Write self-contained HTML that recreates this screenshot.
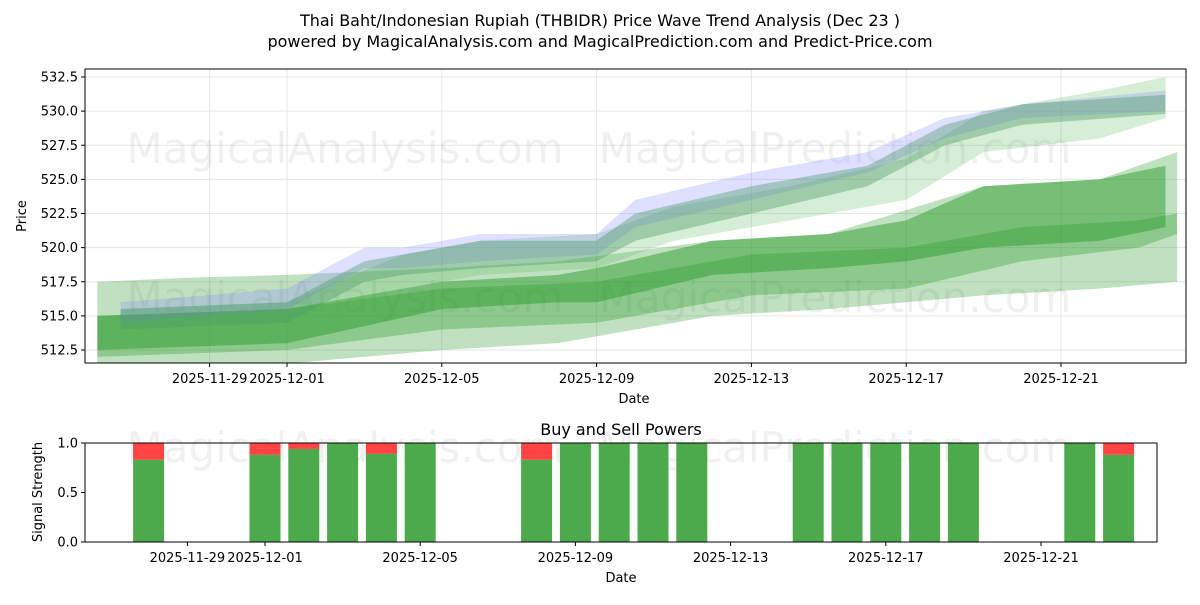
<!DOCTYPE html>
<html><head><meta charset="utf-8">
<style>
body{margin:0;background:#fff;font-family:"Liberation Sans","DejaVu Sans",sans-serif;}
svg text{font-family:"DejaVu Sans","Liberation Sans",sans-serif;}
</style></head>
<body>
<svg id="chart" width="1200" height="600" xmlns="http://www.w3.org/2000/svg">
<rect width="1200" height="600" fill="#fff"/>
<text x="600" y="26" text-anchor="middle" font-size="16">Thai Baht/Indonesian Rupiah (THBIDR) Price Wave Trend Analysis (Dec 23 )</text>
<text x="600" y="47" text-anchor="middle" font-size="16">powered by MagicalAnalysis.com and MagicalPrediction.com and Predict-Price.com</text>
<g id="topPanel"></g>
<g id="botPanel"></g>
</svg>
<script>
// ---- data ----
const xTickLabels = ["2025-11-29","2025-12-01","2025-12-05","2025-12-09","2025-12-13","2025-12-17","2025-12-21"];
const xTickDays = [-2,0,4,8,12,16,20];
const yTicks = [512.5,515.0,517.5,520.0,522.5,525.0,527.5,530.0,532.5];
const bandAx = [-4.3,0,2,3,5,8,9,12,15,17,19,22.7];
const bandALo = [514.5,515.5,518.5,518.5,519,519.5,521.5,523.5,525.5,528,529.5,530];
const bandAHi = [516,517,520,520,521,521,523.5,525.5,527,529.5,530.5,531.5];
const bandBx = [-4.3,0,2,3,5,8,9,12,15,17,19,22.7];
const bandBLo = [514,514.5,517.5,518,518.5,519,520.5,522.5,524.5,527.5,529,529.8];
const bandBHi = [515.5,516,519,519.5,520.5,520.5,522.5,524.5,526,529,530.5,531.2];
const bandCx = [-4.9,0,4,7,8,11,14,16,18,21,22.7];
const bandCLo = [512.5,513,515.5,516,516,518,518.5,519,520,520.5,521.5];
const bandCHi = [515,515.5,517.5,518,518.5,520.5,521,522,524.5,525,526];
const bandDx = [-4.9,-2.5,0,4,7,11,14,18,21,23];
const bandDLo = [510,511,511.5,512.5,513,515,515.5,516.5,517,517.5];
const bandDHi = [517.5,517.8,518,518.5,519,520.5,521,524.5,525,527];
const bandEx = [-4.3,0,3,5,8,10,13,16,18,21,22.7];
const bandELo = [513,513.5,517,518,518.5,520.5,522,523.5,527,528,529.5];
const bandEHi = [515.5,516,519.5,520.5,521,523,524.5,526.5,530,531.5,532.5];
const bandFx = [-4.9,0,4,8,12,16,19,22,23];
const bandFLo = [512,512.5,514,514.5,516.5,517,519,520,521];
const bandFHi = [515,515.5,517,517.5,519.5,520,521.5,522,522.5];
const sigDays = [-3,0,1,2,3,4,7,8,9,10,11,14,15,16,17,18,21,22];
const buyVals = [0.83,0.88,0.94,1,0.89,1,0.83,1,1,1,1,1,1,1,1,1,1,0.88];

const NS="http://www.w3.org/2000/svg";
function mk(p,tag,at){const e=document.createElementNS(NS,tag);for(const k in at)e.setAttribute(k,at[k]);p.appendChild(e);return e;}
const topG=document.getElementById('topPanel'), botG=document.getElementById('botPanel');
const T={x0:85,x1:1186,y0:69,y1:363};
const xs=d=>287+d*38.7;
const ys=v=>350-(v-512.5)*(273/20);
xTickDays.forEach(d=>{const l=mk(topG,'line',{x1:xs(d),x2:xs(d),y1:T.y0,y2:T.y1,stroke:'#e6e6e6'});});
yTicks.forEach(v=>{const l=mk(topG,'line',{x1:T.x0,x2:T.x1,y1:ys(v),y2:ys(v),stroke:'#e6e6e6'});});
[[345,163],[835,163],[345,312],[835,312],[345,462],[835,462]].forEach(p=>{const t=mk(topG,'text',{x:p[0],y:p[1],'text-anchor':'middle','font-size':42,fill:'#000','fill-opacity':0.06});t.textContent=p[0]<600?'MagicalAnalysis.com':'MagicalPrediction.com';});
const clip=mk(topG,'clipPath',{id:'tc'});mk(clip,'rect',{x:T.x0,y:T.y0,width:T.x1-T.x0,height:T.y1-T.y0});
const bandG=mk(topG,'g',{'clip-path':'url(#tc)'});
function band(x,lo,hi,fill,op,name){let pts=x.map((d,i)=>xs(d)+','+ys(hi[i]));for(let i=x.length-1;i>=0;i--)pts.push(xs(x[i])+','+ys(lo[i]));const p=mk(bandG,'polygon',{points:pts.join(' '),fill:fill,'fill-opacity':op});}
band(bandDx,bandDLo,bandDHi,'#2e9b2e',0.3,'wave-band-wide');
band(bandFx,bandFLo,bandFHi,'#2e9b2e',0.35,'wave-band-low');
band(bandCx,bandCLo,bandCHi,'#2e9b2e',0.5,'wave-band-mid');
band(bandEx,bandELo,bandEHi,'#5cb85c',0.25,'wave-band-upper');
band(bandAx,bandALo,bandAHi,'#8080ff',0.25,'wave-band-blue');
band(bandBx,bandBLo,bandBHi,'#4a9a6a',0.4,'wave-band-teal');
mk(topG,'rect',{x:T.x0,y:T.y0,width:T.x1-T.x0,height:T.y1-T.y0,fill:'none',stroke:'#000','stroke-width':1});
xTickDays.forEach((d,i)=>{mk(topG,'line',{x1:xs(d),x2:xs(d),y1:T.y1,y2:T.y1+4,stroke:'#000'});const t=mk(topG,'text',{x:xs(d),y:T.y1+20,'text-anchor':'middle','font-size':13});t.textContent=xTickLabels[i];});
yTicks.forEach(v=>{mk(topG,'line',{x1:T.x0-4,x2:T.x0,y1:ys(v),y2:ys(v),stroke:'#000'});const t=mk(topG,'text',{x:T.x0-7,y:ys(v)+4.5,'text-anchor':'end','font-size':13});t.textContent=v.toFixed(1);});
let tx=mk(topG,'text',{x:634,y:403,'text-anchor':'middle','font-size':13});tx.textContent='Date';
tx=mk(topG,'text',{x:26,y:216,'text-anchor':'middle','font-size':13,transform:'rotate(-90 26 216)'});tx.textContent='Price';
const B={x0:85,x1:1157,y0:443,y1:542};
const xb=d=>265+d*38.8;
const yb=v=>542-v*99;
tx=mk(botG,'text',{x:621,y:435,'text-anchor':'middle','font-size':16});tx.textContent='Buy and Sell Powers';
sigDays.forEach((d,i)=>{const w=31;const r1=mk(botG,'rect',{x:xb(d)-w/2,y:yb(1),width:w,height:yb(buyVals[i])-yb(1),fill:'#ff4444'});const r2=mk(botG,'rect',{x:xb(d)-w/2,y:yb(buyVals[i]),width:w,height:yb(0)-yb(buyVals[i]),fill:'#4caa4c'});});
mk(botG,'rect',{x:B.x0,y:B.y0,width:B.x1-B.x0,height:B.y1-B.y0,fill:'none',stroke:'#000'});
xTickDays.forEach((d,i)=>{mk(botG,'line',{x1:xb(d),x2:xb(d),y1:B.y1,y2:B.y1+4,stroke:'#000'});const t=mk(botG,'text',{x:xb(d),y:B.y1+20,'text-anchor':'middle','font-size':13});t.textContent=xTickLabels[i];});
[0,0.5,1].forEach(v=>{mk(botG,'line',{x1:B.x0-4,x2:B.x0,y1:yb(v),y2:yb(v),stroke:'#000'});const t=mk(botG,'text',{x:B.x0-7,y:yb(v)+4.5,'text-anchor':'end','font-size':13});t.textContent=v.toFixed(1);});
tx=mk(botG,'text',{x:621,y:582,'text-anchor':'middle','font-size':13});tx.textContent='Date';
tx=mk(botG,'text',{x:42,y:492,'text-anchor':'middle','font-size':13,transform:'rotate(-90 42 492)'});tx.textContent='Signal Strength';
</script>
</body></html>
